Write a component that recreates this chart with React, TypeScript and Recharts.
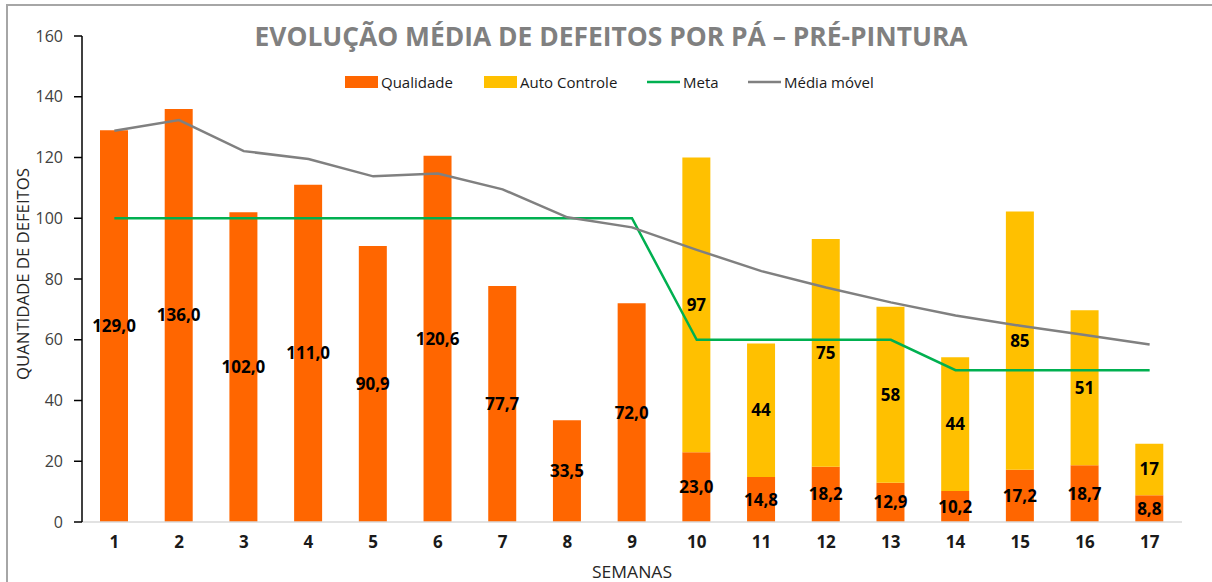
import React from 'react';
import { ComposedChart, Bar, Line, XAxis, YAxis, LabelList } from 'recharts';

const weeks = ['1', '2', '3', '4', '5', '6', '7', '8', '9', '10', '11', '12', '13', '14', '15', '16', '17'];
const qualidade = [129.0, 136.0, 102.0, 111.0, 90.9, 120.6, 77.7, 33.5, 72.0, 23.0, 14.8, 18.2, 12.9, 10.2, 17.2, 18.7, 8.8];
const autoControle = [null, null, null, null, null, null, null, null, null, 97, 44, 75, 58, 44, 85, 51, 17];
const meta = [100, 100, 100, 100, 100, 100, 100, 100, 100, 60, 60, 60, 60, 50, 50, 50, 50];
const mediaMovel = [128.8, 132.3, 122.1, 119.5, 113.8, 114.7, 109.5, 100.3, 97.0, 89.6, 82.6, 77.2, 72.3, 68.0, 64.6, 61.6, 58.4];
const yTicks = [0, 20, 40, 60, 80, 100, 120, 140, 160];

const title = 'EVOLUÇÃO MÉDIA DE DEFEITOS POR PÁ – PRÉ-PINTURA';
const legendItems = [
    { name: 'Qualidade', color: '#FF6600', kind: 'rect' },
    { name: 'Auto Controle', color: '#FFC000', kind: 'rect' },
    { name: 'Meta', color: '#00B050', kind: 'line' },
    { name: 'Média móvel', color: '#808080', kind: 'line' },
];

const data = weeks.map((w, i) => ({
    semana: w,
    qualidade: qualidade[i],
    auto: autoControle[i],
    meta: meta[i],
    media: mediaMovel[i],
}));

const FONT = '"Open Sans", "Noto Sans", sans-serif';

const fmtDecimal = (v: any) => (v == null ? '' : Number(v).toFixed(1).replace('.', ','));
const fmtInt = (v: any) => (v == null || v === 0 ? '' : String(v));

const YLabel = ({ viewBox }: any) => {
    const cy = viewBox.y + viewBox.height / 2 - 5;
    return (
        <text x={23} y={cy} transform={`rotate(-90, 23, ${cy})`} textAnchor="middle" dominantBaseline="central"
            fontFamily={FONT} fontSize={16} fill="#262626" textLength={212} lengthAdjust="spacingAndGlyphs">
            QUANTIDADE DE DEFEITOS
        </text>
    );
};

const XLabel = ({ viewBox }: any) => {
    const cx = viewBox.x + viewBox.width / 2;
    return (
        <text x={cx} y={578} textAnchor="middle" fontFamily={FONT} fontSize={16} fill="#262626"
            textLength={80} lengthAdjust="spacingAndGlyphs">
            SEMANAS
        </text>
    );
};

const App: React.FC = () => {
    // legend layout: x positions of each item's marker
    const legendX = [345, 484, 647, 748];
    return (
        <div style={{ position: 'relative', width: 1212, height: 582, overflow: 'hidden', background: '#fff' }}>
            <style>{'body{margin:0}'}</style>
            <div style={{ position: 'absolute', left: 6, top: 4, width: 1220, height: 620, border: '2px solid #A6A6A6', boxSizing: 'border-box' }} />
            <ComposedChart width={1212} height={582} data={data}
                margin={{ top: 36, right: 30, left: 0, bottom: 0 }}>
                <XAxis dataKey="semana" height={60} axisLine={{ stroke: '#D9D9D9', strokeWidth: 1.5 }} tickLine={false}
                    tickSize={4} tickMargin={10} interval={0}
                    tick={{ fontFamily: FONT, fontSize: 17, fontWeight: 700, fill: '#1a1a1a' }}
                    label={<XLabel />} />
                <YAxis width={82} domain={[0, 160]} ticks={yTicks} interval={0}
                    axisLine={{ stroke: '#000', strokeWidth: 1.5 }} tickLine={{ stroke: '#000', strokeWidth: 1.5 }}
                    tickSize={8} tickMargin={11}
                    tick={{ fontFamily: FONT, fontSize: 16, fill: '#404040' }}
                    label={<YLabel />} />
                <Bar dataKey="qualidade" name="Qualidade" stackId="s" fill="#FF6600" barSize={28} isAnimationActive={false}>
                    <LabelList dataKey="qualidade" position="center" formatter={fmtDecimal}
                        style={{ fontFamily: FONT, fontSize: 17, fontWeight: 700, fill: '#000' }} />
                </Bar>
                <Bar dataKey="auto" name="Auto Controle" stackId="s" fill="#FFC000" barSize={28} isAnimationActive={false}>
                    <LabelList dataKey="auto" position="center" formatter={fmtInt}
                        style={{ fontFamily: FONT, fontSize: 17, fontWeight: 700, fill: '#000' }} />
                </Bar>
                <Line type="linear" dataKey="meta" name="Meta" stroke="#00B050" strokeWidth={2.5} dot={false} isAnimationActive={false} />
                <Line type="linear" dataKey="media" name="Média móvel" stroke="#808080" strokeWidth={2.5} dot={false} isAnimationActive={false} />
            </ComposedChart>
            <svg width={1212} height={110} style={{ position: 'absolute', left: 0, top: 0, pointerEvents: 'none' }}>
                <text x={611} y={46} textAnchor="middle" fontFamily={FONT} fontSize={26} fontWeight={700} fill="#808080"
                    textLength={713} lengthAdjust="spacingAndGlyphs">{title}</text>
                {legendItems.map((it, i) => (
                    <g key={it.name}>
                        {it.kind === 'rect'
                            ? <rect x={legendX[i]} y={76} width={33} height={12} fill={it.color} />
                            : <line x1={legendX[i]} x2={legendX[i] + 33} y1={82} y2={82} stroke={it.color} strokeWidth={2.5} />}
                        <text x={legendX[i] + 36} y={88} fontFamily={FONT} fontSize={15} fill="#1a1a1a">{it.name}</text>
                    </g>
                ))}
            </svg>
        </div>
    );
};

export default App;
